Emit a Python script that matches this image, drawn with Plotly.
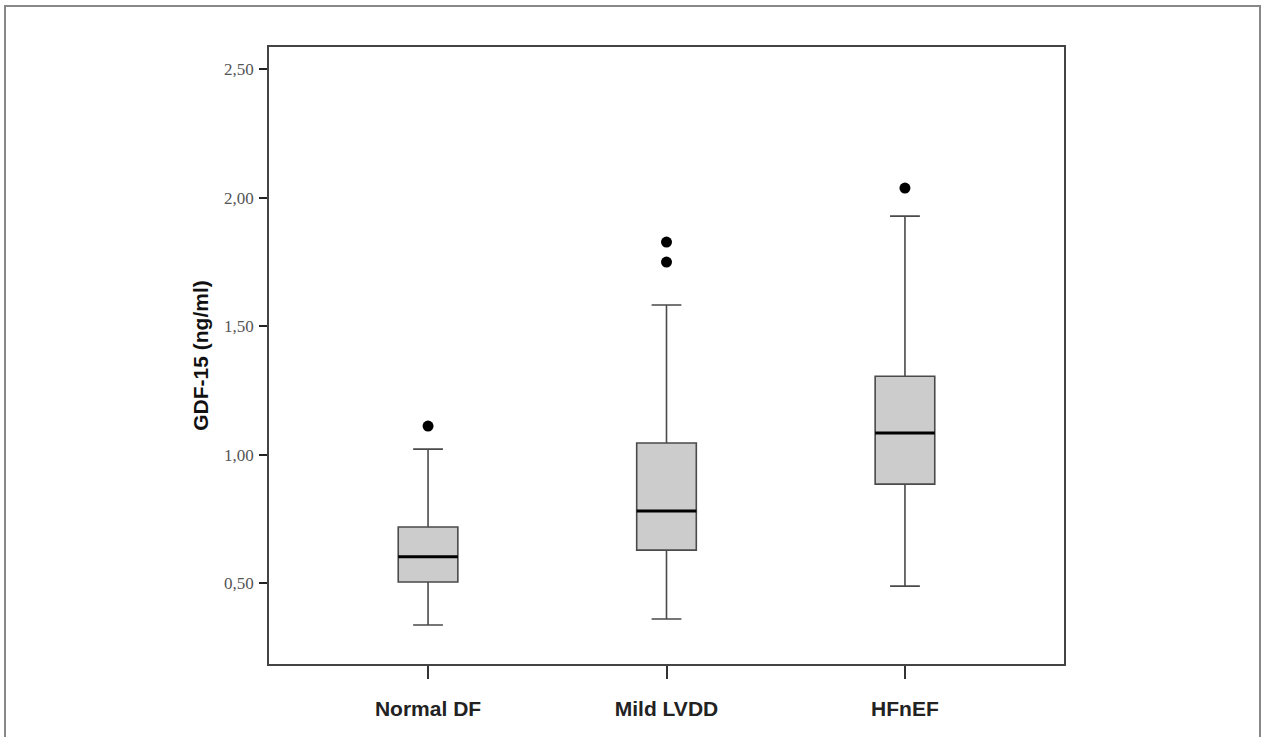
import plotly.graph_objects as go

categories = ["Normal DF", "Mild LVDD", "HFnEF"]
lower_whisker = [0.337, 0.360, 0.488]
q1 = [0.504, 0.628, 0.885]
median = [0.602, 0.780, 1.084]
q3 = [0.718, 1.045, 1.305]
upper_whisker = [1.021, 1.582, 1.928]
outliers = [[1.111], [1.827, 1.749], [2.037]]
ytick_vals = [0.5, 1.0, 1.5, 2.0, 2.5]
ytick_text = ["0,50", "1,00", "1,50", "2,00", "2,50"]

xpos = list(range(len(categories)))
box_w = 0.25

fig = go.Figure()
fig.add_trace(go.Box(
    x=xpos, q1=q1, median=median, q3=q3,
    lowerfence=lower_whisker, upperfence=upper_whisker,
    fillcolor="#cccccc", line=dict(color="#4a4a4a", width=1.6),
    width=box_w, whiskerwidth=0.5, boxpoints=False, showlegend=False,
    hoverinfo="skip",
))
# thick medians
for i, m in enumerate(median):
    fig.add_trace(go.Scatter(
        x=[xpos[i] - box_w / 2, xpos[i] + box_w / 2], y=[m, m], mode="lines",
        line=dict(color="black", width=3), showlegend=False, hoverinfo="skip",
    ))
# outliers
ox, oy = [], []
for i, vals in enumerate(outliers):
    for v in vals:
        ox.append(xpos[i]); oy.append(v)
fig.add_trace(go.Scatter(
    x=ox, y=oy, mode="markers",
    marker=dict(color="black", size=11), showlegend=False, hoverinfo="skip",
))

fig.update_layout(
    width=1267, height=737,
    margin=dict(l=269, r=203, t=47, b=73),
    paper_bgcolor="white", plot_bgcolor="white",
    xaxis=dict(
        range=[-0.667, 2.667], tickvals=xpos, ticktext=["<b>%s</b>" % c for c in categories],
        showgrid=False, zeroline=False,
        showline=True, linecolor="#444444", linewidth=1.6, mirror=True,
        ticks="outside", ticklen=13, tickwidth=1.6, tickcolor="#333333",
        ticklabelstandoff=12,
        tickfont=dict(family="Liberation Sans", size=21, color="#222222"),
    ),
    yaxis=dict(
        range=[0.185, 2.586], tickvals=ytick_vals, ticktext=ytick_text,
        showgrid=False, zeroline=False,
        showline=True, linecolor="#444444", linewidth=1.6, mirror=True,
        ticks="outside", ticklen=8, tickwidth=2, tickcolor="#222222",
        ticklabelstandoff=2,
        tickfont=dict(family="Liberation Serif", size=17, color="#555555"),
        title=dict(text="<b>GDF-15 (ng/ml)</b>", standoff=10,
                   font=dict(family="Liberation Sans", size=21, color="#111111")),
    ),
    shapes=[dict(type="rect", xref="paper", yref="paper",
                 x0=-264 / 795, x1=(1260 - 269) / 795,
                 y0=-0.2, y1=(737 - 6 - 73) / 617,
                 line=dict(color="#888888", width=2), fillcolor="rgba(0,0,0,0)",
                 layer="below")],
)
fig.write_html("out.html")
